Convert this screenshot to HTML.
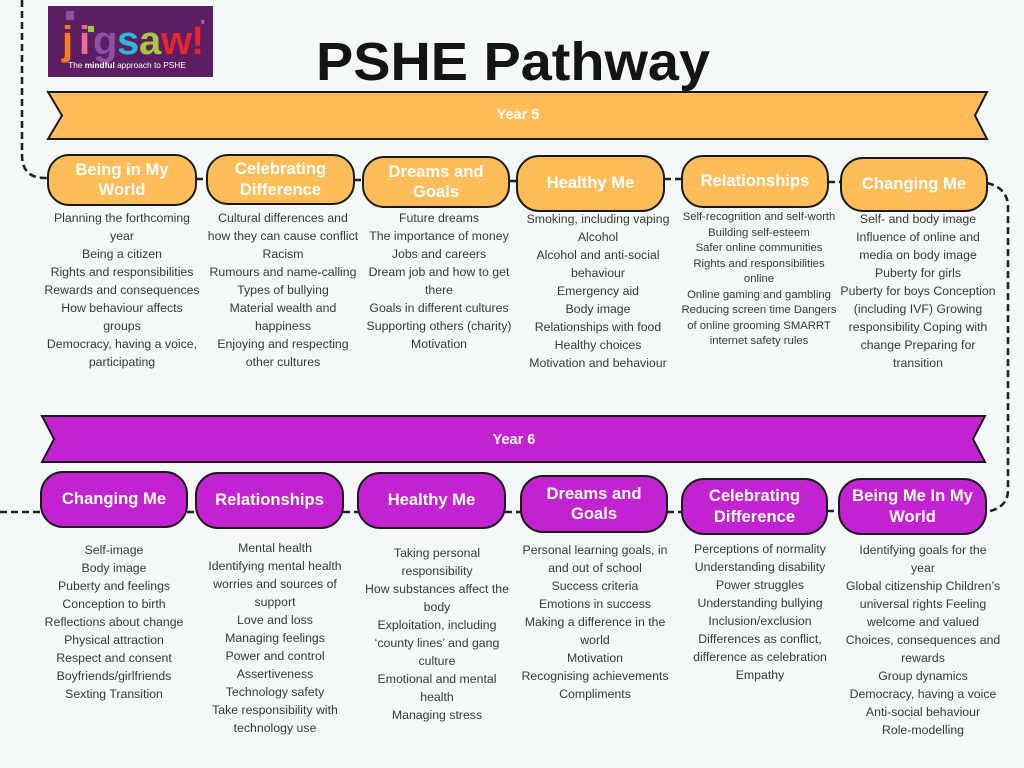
<!DOCTYPE html>
<html>
<head>
<meta charset="utf-8">
<style>
  html,body{margin:0;padding:0;}
  body{width:1024px;height:768px;background:#f4f8f9;position:relative;overflow:hidden;font-family:"Liberation Sans",sans-serif;}
  svg.base{position:absolute;left:0;top:0;}
  .col{position:absolute;width:220px;text-align:center;white-space:nowrap;color:#383838;font-size:12.3px;line-height:18px;}
  .col.sm{font-size:11.3px;line-height:15.5px;}
  .bt{position:absolute;display:flex;align-items:center;justify-content:center;text-align:center;color:#fff;font-weight:bold;font-size:16.6px;line-height:20.5px;white-space:nowrap;}
</style>
</head>
<body>
<svg class="base" width="1024" height="768" viewBox="0 0 1024 768">
  <!-- logo -->
  <rect x="48" y="6" width="165" height="71" fill="#5b1e62"/>
  <g font-family="Liberation Sans, sans-serif" font-weight="bold" font-size="40">
    <text x="62" y="54" fill="#f47d21">j</text>
    <text x="79" y="54" fill="#ee6a98">i</text>
    <text x="93" y="54" fill="#8f4fa3">g</text>
    <text x="117" y="54" fill="#2fb7d6">s</text>
    <text x="139" y="54" fill="#a6c93b">a</text>
    <text x="161" y="54" fill="#e5262d">w</text>
    <text x="191" y="54" fill="#e5262d">!</text>
  </g>
  <rect x="66" y="11" width="8" height="9" fill="#8f4fa3"/>
  <rect x="88" y="26" width="6" height="6" fill="#a6c93b"/>
  <text x="201" y="24" fill="#ddd" font-size="5" font-family="Liberation Sans, sans-serif">®</text>
  <text x="127" y="68" fill="#ffffff" font-size="8.3" font-family="Liberation Sans, sans-serif" text-anchor="middle">The <tspan font-weight="bold">mindful</tspan> approach to PSHE</text>

  <!-- title -->
  <text x="513" y="80" text-anchor="middle" font-family="Liberation Sans, sans-serif" font-weight="bold" font-size="54" fill="#141414" textLength="394" lengthAdjust="spacingAndGlyphs">PSHE Pathway</text>

  <!-- dashed connectors -->
  <g fill="none" stroke="#222" stroke-width="2.6" stroke-dasharray="7 4">
    <path d="M22,0 L22,155 Q22,178 45,178 L48,178"/>
    <path d="M196,179 L207,179"/>
    <path d="M354,180 L363,180"/>
    <path d="M509,181 L517,181"/>
    <path d="M664,179 L682,179"/>
    <path d="M828,182 L841,182"/>
    <path d="M987,183 Q1008,188 1008,207 L1008,490 Q1008,508 986,512"/>
    <path d="M0,512 L41,512"/>
    <path d="M187,512 L196,512"/>
    <path d="M343,512 L358,512"/>
    <path d="M505,512 L521,512"/>
    <path d="M667,512 L682,512"/>
    <path d="M827,511 L839,511"/>
  </g>

  <!-- Year 5 banner -->
  <polygon points="48,92 987,92 975,115.5 987,139 48,139 62,115.5" fill="#febd59" stroke="#1a1a1a" stroke-width="2"/>
  <text x="518" y="119" text-anchor="middle" fill="#fff" font-family="Liberation Sans, sans-serif" font-weight="bold" font-size="14.5">Year 5</text>

  <!-- Year 6 banner -->
  <polygon points="42,416 985,416 973,439 985,462 42,462 54,439" fill="#c322d0" stroke="#1a1a1a" stroke-width="2"/>
  <text x="514" y="444" text-anchor="middle" fill="#fff" font-family="Liberation Sans, sans-serif" font-weight="bold" font-size="14.5">Year 6</text>

  <!-- Year 5 boxes -->
  <g fill="#febd59" stroke="#1a1a1a" stroke-width="2">
    <rect x="48" y="155" width="148" height="50" rx="21"/>
    <rect x="207" y="155" width="147" height="49" rx="21"/>
    <rect x="363" y="157" width="146" height="50" rx="21"/>
    <rect x="517" y="156" width="147" height="55" rx="22"/>
    <rect x="682" y="156" width="146" height="51" rx="21"/>
    <rect x="841" y="158" width="146" height="53" rx="22"/>
  </g>
  <!-- Year 6 boxes -->
  <g fill="#c322d0" stroke="#1a1a1a" stroke-width="2">
    <rect x="41" y="472" width="146" height="55" rx="22"/>
    <rect x="196" y="473" width="147" height="55" rx="22"/>
    <rect x="358" y="473" width="147" height="55" rx="22"/>
    <rect x="521" y="476" width="146" height="56" rx="22"/>
    <rect x="682" y="479" width="145" height="55" rx="22"/>
    <rect x="839" y="479" width="147" height="55" rx="22"/>
  </g>
</svg>

<!-- Year 5 box titles -->
<div class="bt" style="left:48px;top:155px;width:148px;height:50px;">Being in My<br>World</div>
<div class="bt" style="left:207px;top:155px;width:147px;height:49px;">Celebrating<br>Difference</div>
<div class="bt" style="left:363px;top:157px;width:146px;height:50px;">Dreams and<br>Goals</div>
<div class="bt" style="left:517px;top:156px;width:147px;height:55px;">Healthy Me</div>
<div class="bt" style="left:682px;top:156px;width:146px;height:51px;">Relationships</div>
<div class="bt" style="left:841px;top:158px;width:146px;height:53px;">Changing Me</div>

<!-- Year 6 box titles -->
<div class="bt" style="left:41px;top:472px;width:146px;height:55px;">Changing Me</div>
<div class="bt" style="left:196px;top:473px;width:147px;height:55px;">Relationships</div>
<div class="bt" style="left:358px;top:473px;width:147px;height:55px;">Healthy Me</div>
<div class="bt" style="left:521px;top:476px;width:146px;height:56px;">Dreams and<br>Goals</div>
<div class="bt" style="left:682px;top:479px;width:145px;height:55px;">Celebrating<br>Difference</div>
<div class="bt" style="left:839px;top:479px;width:147px;height:55px;">Being Me In My<br>World</div>

<!-- Year 5 columns -->
<div class="col" style="left:12px;top:209px;">Planning the forthcoming<br>year<br>Being a citizen<br>Rights and responsibilities<br>Rewards and consequences<br>How behaviour affects<br>groups<br>Democracy, having a voice,<br>participating</div>
<div class="col" style="left:173px;top:209px;">Cultural differences and<br>how they can cause conflict<br>Racism<br>Rumours and name-calling<br>Types of bullying<br>Material wealth and<br>happiness<br>Enjoying and respecting<br>other cultures</div>
<div class="col" style="left:329px;top:209px;">Future dreams<br>The importance of money<br>Jobs and careers<br>Dream job and how to get<br>there<br>Goals in different cultures<br>Supporting others (charity)<br>Motivation</div>
<div class="col" style="left:488px;top:210px;">Smoking, including vaping<br>Alcohol<br>Alcohol and anti-social<br>behaviour<br>Emergency aid<br>Body image<br>Relationships with food<br>Healthy choices<br>Motivation and behaviour</div>
<div class="col sm" style="left:649px;top:210px;">Self-recognition and self-worth<br>Building self-esteem<br>Safer online communities<br>Rights and responsibilities<br>online<br>Online gaming and gambling<br>Reducing screen time Dangers<br>of online grooming SMARRT<br>internet safety rules</div>
<div class="col" style="left:808px;top:210px;">Self- and body image<br>Influence of online and<br>media on body image<br>Puberty for girls<br>Puberty for boys Conception<br>(including IVF) Growing<br>responsibility Coping with<br>change Preparing for<br>transition</div>

<!-- Year 6 columns -->
<div class="col" style="left:4px;top:541px;">Self-image<br>Body image<br>Puberty and feelings<br>Conception to birth<br>Reflections about change<br>Physical attraction<br>Respect and consent<br>Boyfriends/girlfriends<br>Sexting Transition</div>
<div class="col" style="left:165px;top:539px;">Mental health<br>Identifying mental health<br>worries and sources of<br>support<br>Love and loss<br>Managing feelings<br>Power and control<br>Assertiveness<br>Technology safety<br>Take responsibility with<br>technology use</div>
<div class="col" style="left:327px;top:544px;">Taking personal<br>responsibility<br>How substances affect the<br>body<br>Exploitation, including<br>‘county lines’ and gang<br>culture<br>Emotional and mental<br>health<br>Managing stress</div>
<div class="col" style="left:485px;top:541px;">Personal learning goals, in<br>and out of school<br>Success criteria<br>Emotions in success<br>Making a difference in the<br>world<br>Motivation<br>Recognising achievements<br>Compliments</div>
<div class="col" style="left:650px;top:540px;">Perceptions of normality<br>Understanding disability<br>Power struggles<br>Understanding bullying<br>Inclusion/exclusion<br>Differences as conflict,<br>difference as celebration<br>Empathy</div>
<div class="col" style="left:813px;top:541px;">Identifying goals for the<br>year<br>Global citizenship Children’s<br>universal rights Feeling<br>welcome and valued<br>Choices, consequences and<br>rewards<br>Group dynamics<br>Democracy, having a voice<br>Anti-social behaviour<br>Role-modelling</div>
</body>
</html>
